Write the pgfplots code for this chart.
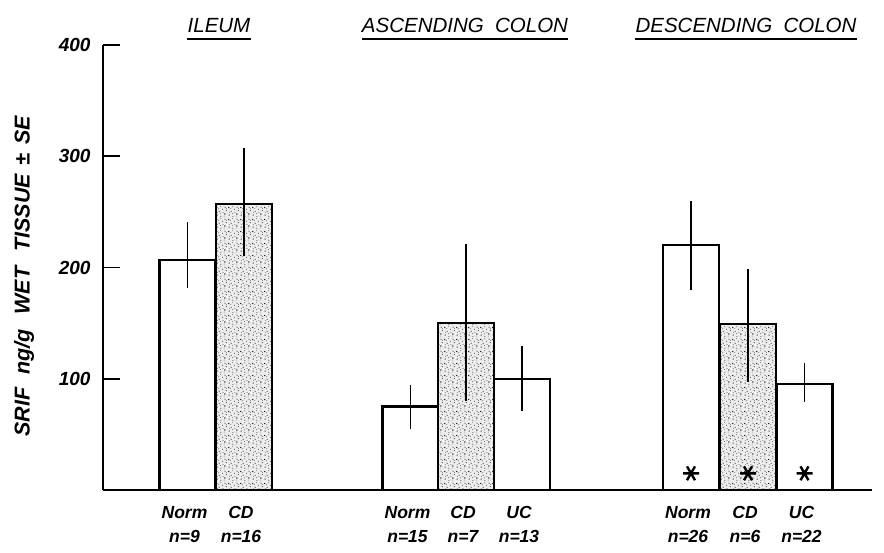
\documentclass[border=0pt]{standalone}
\usepackage{pgfplots}
\pgfplotsset{compat=1.18}
\usepackage{fontspec}
\setmainfont{Liberation Sans}
\usetikzlibrary{patterns}
\pgfdeclarepatternformonly{stipple}{\pgfqpoint{0pt}{0pt}}{\pgfqpoint{12pt}{12pt}}{\pgfqpoint{12pt}{12pt}}{%
  \pgfpathcircle{\pgfqpoint{1.2pt}{2.1pt}}{0.65pt}
  \pgfpathcircle{\pgfqpoint{5.3pt}{0.8pt}}{0.5pt}
  \pgfpathcircle{\pgfqpoint{9.6pt}{3.2pt}}{0.75pt}
  \pgfpathcircle{\pgfqpoint{11.0pt}{6.9pt}}{0.55pt}
  \pgfpathcircle{\pgfqpoint{3.4pt}{6.2pt}}{0.6pt}
  \pgfpathcircle{\pgfqpoint{7.1pt}{8.4pt}}{0.5pt}
  \pgfpathcircle{\pgfqpoint{0.9pt}{10.2pt}}{0.7pt}
  \pgfpathcircle{\pgfqpoint{9.8pt}{10.6pt}}{0.55pt}
  \pgfpathcircle{\pgfqpoint{5.2pt}{11.2pt}}{0.45pt}
  \pgfpathcircle{\pgfqpoint{7.6pt}{4.8pt}}{0.45pt}
  \pgfpathcircle{\pgfqpoint{3.0pt}{8.9pt}}{0.4pt}
  \pgfpathcircle{\pgfqpoint{5.0pt}{3.6pt}}{0.4pt}
  \pgfpathcircle{\pgfqpoint{1.6pt}{5.0pt}}{0.35pt}
  \pgfpathcircle{\pgfqpoint{8.8pt}{1.0pt}}{0.4pt}
  \pgfpathcircle{\pgfqpoint{11.2pt}{9.0pt}}{0.35pt}
  \pgfusepath{fill}}
\newcommand\lab{\fontsize{17.5}{24}\selectfont\bfseries\itshape}
\newcommand\tck{\fontsize{19}{24}\selectfont\bfseries\itshape}
\newcommand\ttl{\fontsize{20.5}{24}\selectfont\itshape}
\begin{document}
\begin{tikzpicture}
\useasboundingbox (0,0) rectangle (884pt,552pt);
\begin{axis}[
  at={(103pt,62pt)}, anchor=south west,
  scale only axis, width=769pt, height=445pt,
  xmin=103, xmax=872, ymin=0, ymax=400,
  axis x line*=bottom, axis y line*=left,
  axis line style={line width=1.6pt, black},
  ytick={100,200,300,400},
  tick align=inside, major tick length=17pt,
  y tick style={line width=1.6pt, black},
  xtick={187.5,244,410.5,466,522,691,748,804.5},
  xticklabels={{Norm\\n=9},{CD\\n=16},{Norm\\n=15},{CD\\n=7},{UC\\n=13},{Norm\\n=26},{CD\\n=6},{UC\\n=22}},
  x tick style={draw=none},
  xticklabel style={align=center, font=\lab, xshift=-3pt, yshift=-13pt},
  yticklabel style={font=\tck, xshift=-9pt},
  /pgf/number format/assume math mode=true,
  clip=false,
]
\addplot[ybar, bar width=56, bar shift=0pt, draw=black, line width=2.2pt, fill=white,
  error bars/.cd, y dir=both, y explicit, error mark=none,
  error bar style={line width=1.4pt, black}]
  coordinates {
  (187.5,207) += (0,34) -= (0,25)
  (410.5,75) += (0,19) -= (0,20)
  (522,100) += (0,29) -= (0,29)
  (691,220) += (0,40) -= (0,40)
  (804.5,95) += (0,19) -= (0,16)
  };
\addplot[ybar, bar width=56, bar shift=0pt, draw=black, line width=2.2pt, fill=black!7,
  postaction={pattern=stipple, pattern color=black},
  error bars/.cd, y dir=both, y explicit, error mark=none,
  error bar style={line width=2pt, black}]
  coordinates {
  (244,257) += (0,50) -= (0,47)
  (466,150) += (0,71) -= (0,70)
  (748,149) += (0,50) -= (0,52)
  };
\addplot[only marks, mark=asterisk, mark size=8pt, mark options={line width=2.4pt, black, rotate=90}]
  coordinates {(691,15) (748,15) (804.5,15)};
\node[anchor=base, inner sep=0pt, font=\ttl] (t1) at (axis cs:219,410.8) {ILEUM};
\draw[line width=1.6pt] ([yshift=-6pt]t1.base west) -- ([yshift=-6pt]t1.base east);
\node[anchor=base, inner sep=0pt, font=\ttl] (t2) at (axis cs:465,410.8) {ASCENDING\hspace{0.55em}COLON};
\draw[line width=1.6pt] ([yshift=-6pt]t2.base west) -- ([yshift=-6pt]t2.base east);
\node[anchor=base, inner sep=0pt, font=\ttl] (t3) at (axis cs:746,410.8) {DESCENDING\hspace{0.55em}COLON};
\draw[line width=1.6pt] ([yshift=-6pt]t3.base west) -- ([yshift=-6pt]t3.base east);
\node[rotate=90, font=\fontsize{21.5}{24}\selectfont\bfseries\itshape] at (axis cs:24,192) {SRIF\hspace{0.6em}ng/g\hspace{0.7em}WET\hspace{0.7em}TISSUE\hspace{0.4em}±\hspace{0.4em}SE};
\end{axis}
\end{tikzpicture}
\end{document}
